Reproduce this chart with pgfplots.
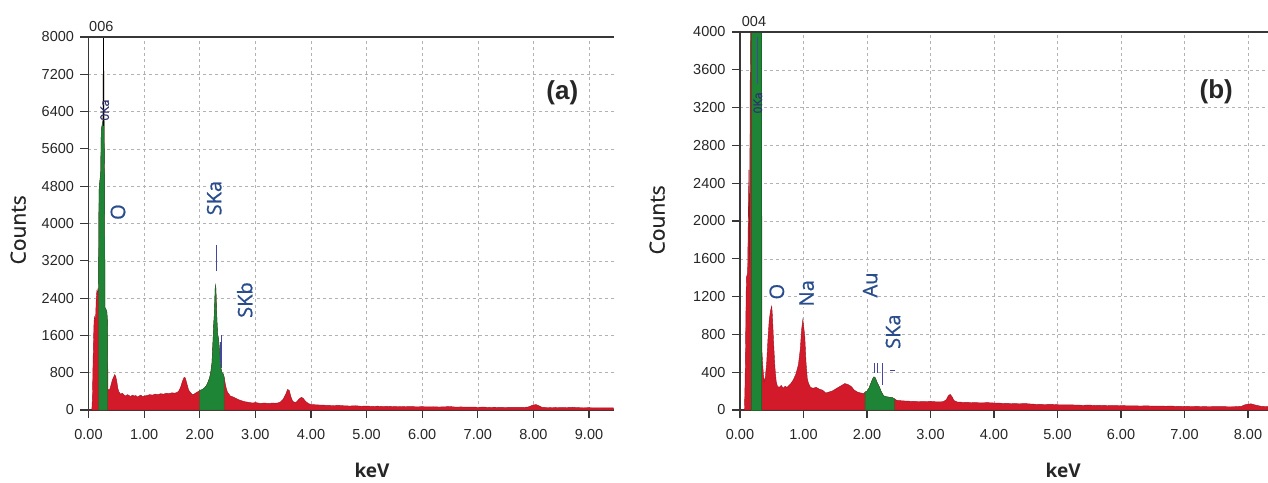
\documentclass[border=0pt]{standalone}
\usepackage{pgfplots}
\pgfplotsset{compat=1.18}
\usepackage{pgfplotstable}
\usepackage{fontspec}
\setmainfont{Liberation Sans}
\newfontfamily\lblfont[FakeBold=0.8]{Open Sans}
\newfontfamily\lblfontb{Open Sans}

\definecolor{specred}{RGB}{210,26,42}
\definecolor{specgreen}{RGB}{30,132,54}
\definecolor{elemblue}{RGB}{40,76,140}
\definecolor{markblue}{RGB}{70,70,160}
\definecolor{axisgray}{RGB}{55,55,55}

% EDS spectrum (a): energy in keV, counts
\pgfplotstableread{
x y
0.00 0
0.06 0
0.07 250
0.08 900
0.09 1500
0.10 1900
0.11 2000
0.12 1950
0.13 2050
0.14 2400
0.15 2550
0.16 2500
0.17 2600
0.18 2550
0.19 4700
0.20 4850
0.22 5100
0.23 6000
0.25 6150
0.26 6200
0.27 8500
0.28 6100
0.29 4900
0.295 2200
0.31 2170
0.33 2100
0.34 1900
0.35 450
0.37 420
0.39 470
0.41 560
0.43 650
0.45 700
0.47 760
0.49 720
0.51 600
0.53 450
0.55 380
0.58 340
0.61 360
0.64 320
0.67 300
0.70 330
0.73 310
0.76 290
0.79 320
0.82 300
0.85 310
0.88 280
0.91 300
0.94 320
0.97 290
1.00 300
1.05 310
1.10 330
1.15 320
1.20 340
1.25 330
1.30 350
1.35 340
1.40 360
1.45 350
1.50 370
1.55 360
1.60 380
1.63 420
1.66 500
1.69 620
1.72 700
1.74 690
1.77 560
1.80 430
1.83 380
1.86 340
1.89 330
1.92 360
1.95 380
1.98 400
2.00 420
2.03 430
2.06 450
2.09 480
2.12 520
2.15 600
2.18 700
2.20 820
2.22 1000
2.24 1500
2.25 1800
2.26 2000
2.27 2300
2.28 2680
2.29 2620
2.30 2200
2.31 1900
2.32 1650
2.34 1500
2.36 1200
2.38 900
2.40 800
2.42 780
2.44 700
2.46 560
2.48 450
2.50 380
2.55 300
2.60 280
2.65 250
2.70 220
2.75 200
2.80 180
2.85 170
2.90 160
2.95 150
3.00 160
3.05 150
3.10 140
3.15 150
3.20 145
3.25 140
3.30 150
3.35 145
3.40 150
3.45 170
3.50 230
3.55 350
3.58 440
3.61 420
3.64 280
3.67 190
3.70 170
3.73 160
3.76 200
3.80 250
3.83 270
3.86 250
3.90 190
3.95 140
4.00 120
4.10 110
4.20 105
4.30 100
4.40 95
4.50 100
4.60 90
4.70 85
4.80 92
4.90 80
5.00 85
5.10 78
5.20 82
5.30 75
5.40 80
5.50 72
5.60 76
5.70 70
5.80 74
5.90 68
6.00 72
6.10 66
6.20 70
6.30 64
6.40 68
6.50 75
6.60 62
6.70 66
6.80 60
6.90 64
7.00 58
7.10 62
7.20 57
7.30 60
7.40 56
7.50 59
7.60 55
7.70 58
7.80 56
7.90 62
7.95 85
8.00 110
8.05 115
8.10 90
8.15 60
8.20 55
8.30 52
8.40 55
8.50 50
8.60 53
8.70 60
8.80 50
8.90 48
9.00 50
9.10 46
9.20 48
9.30 45
9.44 44
}\specA

% EDS spectrum (b): energy in keV, counts
\pgfplotstableread{
x y
0.00 0
0.07 0
0.08 300
0.10 1400
0.12 1450
0.14 2540
0.15 1500
0.16 3440
0.17 4500
0.34 4500
0.345 630
0.36 450
0.38 300
0.40 350
0.42 500
0.44 750
0.46 950
0.48 1050
0.50 1100
0.51 1000
0.53 700
0.55 450
0.57 300
0.59 250
0.62 240
0.65 260
0.68 230
0.71 250
0.74 240
0.77 260
0.80 280
0.84 320
0.88 380
0.92 480
0.95 650
0.97 850
0.99 960
1.00 900
1.02 780
1.04 500
1.06 330
1.08 280
1.11 240
1.15 230
1.20 240
1.25 220
1.30 210
1.35 180
1.40 190
1.45 200
1.50 220
1.55 240
1.60 260
1.65 280
1.70 270
1.75 250
1.80 210
1.85 190
1.90 180
1.95 175
1.97 190
2.00 200
2.03 230
2.06 280
2.09 330
2.11 350
2.13 340
2.16 290
2.19 250
2.22 200
2.26 150
2.30 140
2.35 135
2.40 130
2.43 120
2.46 105
2.50 100
2.60 95
2.70 92
2.80 90
2.90 88
3.00 92
3.10 86
3.20 88
3.25 110
3.28 150
3.31 165
3.34 140
3.37 100
3.42 85
3.50 82
3.60 80
3.70 78
3.80 76
3.90 78
4.00 74
4.10 72
4.20 70
4.30 68
4.40 66
4.50 68
4.60 62
4.70 60
4.80 58
4.90 60
5.00 56
5.10 54
5.20 55
5.30 52
5.40 50
5.50 52
5.60 48
5.70 50
5.80 47
5.90 46
6.00 48
6.10 44
6.20 45
6.30 42
6.40 44
6.50 41
6.60 42
6.70 40
6.80 41
6.90 38
7.00 40
7.10 37
7.20 38
7.30 36
7.40 37
7.50 35
7.60 36
7.70 34
7.80 35
7.90 40
7.95 55
8.00 62
8.05 65
8.10 55
8.20 40
8.315 35
}\specB

\pgfplotsset{
  eds/.style={
    scale only axis,
    anchor=south west,
    axis x line*=bottom,
    axis y line*=left,
    axis line style={axisgray, line width=1.4pt},
    xmin=0, ymin=0,
    tick align=outside,
    major tick length=8pt,
    tick style={axisgray, line width=1.2pt},
    grid=major,
    major grid style={black!30, dashed, line width=0.5pt},
    ticklabel style={font=\fontsize{14.5}{16}\selectfont, text=black!85},
    yticklabel style={xshift=-3pt},
    xticklabel style={yshift=-8pt},
    clip mode=individual,
    xlabel style={font=\lblfontb\bfseries\fontsize{19}{22}\selectfont, text=black!85, anchor=center},
    ylabel style={font=\lblfont\fontsize{21}{24}\selectfont, text=black!85, anchor=center},
    xlabel={keV}, ylabel={Counts},
  },
}
\tikzset{
  elem/.style={font=\lblfont\fontsize{20}{22}\selectfont, text=elemblue, rotate=90, fill=white, inner sep=1pt},
  tiny/.style={font=\lblfont\fontsize{12}{13}\selectfont, text=markblue!70!black, rotate=90, inner sep=0pt},
  panel/.style={font=\bfseries\fontsize{26}{28}\selectfont, text=black!85, fill=white, inner sep=3pt},
}

\begin{document}
\begin{tikzpicture}
\useasboundingbox (0,0) rectangle (1268pt,482pt);

% ---------------- (a) ----------------
\begin{axis}[eds,
  at={(88.5pt,72pt)}, width=525pt, height=373pt,
  xmax=9.44, ymax=8000,
  xtick={0,1,...,9},
  xticklabels={0.00,1.00,2.00,3.00,4.00,5.00,6.00,7.00,8.00,9.00},
  ytick={0,800,...,8000},
  yticklabels={0,800,1600,2400,3200,4000,4800,5600,6400,7200,8000},
  xlabel style={at={(axis description cs:0.540,-0.163)}},
  ylabel style={at={(axis description cs:-0.134,0.483)}},
]
\addplot[fill=specred, draw=specred!75!black, line width=0.4pt] table {\specA} \closedcycle;
\addplot[fill=specgreen, draw=specgreen!80!black, line width=0.4pt, restrict x to domain=0.179:0.341] table {\specA} \closedcycle;
\addplot[fill=specgreen, draw=specgreen!80!black, line width=0.4pt, restrict x to domain=1.999:2.441] table {\specA} \closedcycle;
\addplot[black, line width=0.8pt] coordinates {(0.27,6100) (0.27,8000)};
\addplot[markblue, line width=1pt] coordinates {(2.31,2980) (2.31,3540)};
\addplot[markblue, line width=1pt] coordinates {(2.40,900) (2.40,1600)};
\addplot[markblue, line width=1pt] coordinates {(2.37,1000) (2.37,1450)};
\draw[axisgray, line width=1.4pt] (rel axis cs:0,1) -- (rel axis cs:1,1);
\node[font=\fontsize{14.5}{16}\selectfont, text=black!85] at (axis cs:0.23,8230) {006};
\node[tiny] at (axis cs:0.29,6430) {0Ka};
\node[elem] at (axis cs:0.53,4245) {O};
\node[elem] at (axis cs:2.26,4545) {SKa};
\node[elem] at (axis cs:2.81,2358) {SKb};
\node[panel] at (axis cs:8.52,6795) {(a)};
\end{axis}

% ---------------- (b) ----------------
\begin{axis}[eds,
  at={(740pt,72pt)}, width=528pt, height=378pt,
  xmax=8.315, ymax=4000,
  xtick={0,1,...,8},
  xticklabels={0.00,1.00,2.00,3.00,4.00,5.00,6.00,7.00,8.00},
  ytick={0,400,...,4000},
  yticklabels={0,400,800,1200,1600,2000,2400,2800,3200,3600,4000},
  xlabel style={at={(axis description cs:0.612,-0.161)}},
  ylabel style={at={(axis description cs:-0.157,0.503)}},
]
\addplot[fill=specred, draw=specred!75!black, line width=0.4pt] table {\specB} \closedcycle;
\addplot[fill=specgreen, draw=specgreen!80!black, line width=0.4pt, restrict x to domain=0.169:0.341] table {\specB} \closedcycle;
\addplot[fill=specgreen, draw=specgreen!80!black, line width=0.4pt, restrict x to domain=1.969:2.431] table {\specB} \closedcycle;
\addplot[markblue, line width=1pt] coordinates {(0.27,3450) (0.27,3950)};
\addplot[markblue, line width=1pt] coordinates {(2.115,395) (2.115,500)};
\addplot[markblue, line width=1pt] coordinates {(2.17,395) (2.17,500)};
\addplot[markblue, line width=1pt] coordinates {(2.25,265) (2.25,500)};
\addplot[markblue, line width=1pt] coordinates {(2.36,415) (2.44,415)};
\draw[axisgray, line width=1.4pt] (rel axis cs:0,1) -- (rel axis cs:1,1);
\node[font=\fontsize{14.5}{16}\selectfont, text=black!85] at (axis cs:0.22,4116) {004};
\node[tiny] at (axis cs:0.28,3249) {0Ka};
\node[elem] at (axis cs:0.58,1252) {O};
\node[elem] at (axis cs:1.05,1235) {Na};
\node[elem] at (axis cs:2.05,1323) {Au};
\node[elem] at (axis cs:2.41,829) {SKa};
\node[panel] at (axis cs:7.50,3365) {(b)};
\end{axis}
\end{tikzpicture}
\end{document}
